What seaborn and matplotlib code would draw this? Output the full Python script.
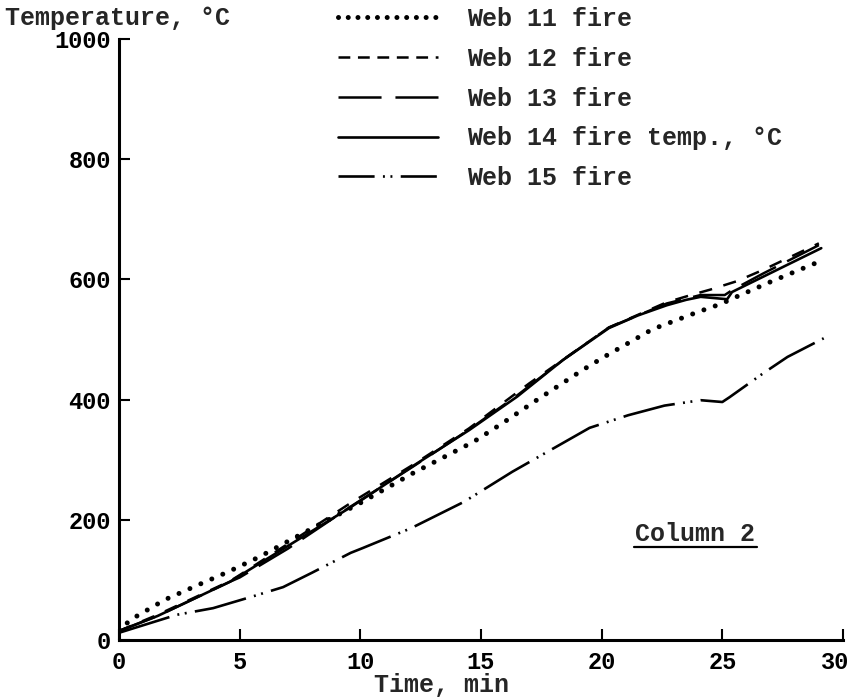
import numpy as np
import pandas as pd
import seaborn as sns
import matplotlib
matplotlib.use("Agg")
import matplotlib.pyplot as plt
from matplotlib.lines import Line2D
from matplotlib.transforms import ScaledTranslation

# ---------------- data ----------------
web11_x = [0, 0.45, 1.9, 3.3, 4.5, 5.8, 7.5, 10.0, 12.2, 14.7, 15.9, 17.3, 19.2, 20.1, 22.1, 24.0, 25.0, 25.3, 27.0, 29.1]
web11_y = [14, 33, 67, 92, 113, 138, 175, 228, 278, 330, 361, 399, 449, 471, 517, 546, 560, 566, 596, 631]

web12_x = [0, 1.6, 4.6, 5.0, 7.0, 9.6, 12.2, 14.5, 17.0, 20.3, 22.7, 23.7, 24.5, 25.6, 26.7, 29.0]
web12_y = [15, 42, 98, 108, 160, 228, 292, 352, 427, 520, 562, 574, 583, 597, 616, 660]

web13_x = [0, 1.6, 4.6, 5.0, 7.0, 9.6, 12.2, 14.5, 16.5, 18.4, 20.3, 22.7, 24.1, 25.1, 25.4, 26.7, 29.0]
web13_y = [15, 40, 97, 104, 152, 222, 289, 350, 407, 466, 520, 560, 574, 574, 582, 610, 657]

web14_x = [0, 1.6, 4.6, 9.6, 12.2, 14.5, 16.5, 18.4, 20.3, 21.5, 22.7, 23.5, 24.1, 25.2, 25.4, 29.1]
web14_y = [15, 40, 97, 221, 290, 349, 405, 466, 519, 540, 557, 566, 571, 567, 579, 652]

web15_x = [0, 2.4, 3.9, 5.5, 6.8, 8.0, 9.6, 10.1, 12.1, 14.3, 16.3, 19.5, 21.1, 22.6, 24.1, 25.0, 25.3, 26.7, 27.7, 29.2]
web15_y = [12, 42, 53, 72, 88, 112, 145, 153, 186, 230, 280, 353, 374, 390, 399, 396, 404, 444, 471, 502]

labels = ["Web 11 fire", "Web 12 fire", "Web 13 fire", "Web 14 fire temp., \u00b0C", "Web 15 fire"]
x_ticks = [0, 5, 10, 15, 20, 25, 30]
y_ticks = [0, 200, 400, 600, 800, 1000]

# ---------------- style ----------------
sns.set_style("ticks")
plt.rcParams["font.family"] = ["Liberation Mono", "DejaVu Sans Mono"]
plt.rcParams["font.weight"] = "bold"
plt.rcParams["lines.scale_dashes"] = False

fig = plt.figure(figsize=(8.5, 6.98), dpi=100)
ax = fig.add_axes([119 / 850, 58 / 698, 724 / 850, 601 / 698])

styles = [
    dict(linestyle=(0, (0.01, 8.6)), linewidth=3.6, dash_capstyle="round"),
    dict(linestyle=(0, (9.5, 8.5)), linewidth=1.8, dash_capstyle="butt"),
    dict(linestyle=(0, (28, 9)), linewidth=1.8, dash_capstyle="butt"),
    dict(linestyle="-", linewidth=1.9),
    dict(linestyle=(0, (38, 6, 1.4, 4, 1.4, 6)), linewidth=1.9, dash_capstyle="butt"),
]
series = [(web11_x, web11_y), (web12_x, web12_y), (web13_x, web13_y),
          (web14_x, web14_y), (web15_x, web15_y)]

for (xs, ys), st in zip(series, styles):
    df = pd.DataFrame({"t": xs, "T": ys})
    sns.lineplot(data=df, x="t", y="T", ax=ax, color="black", sort=False,
                 estimator=None, legend=False, **st)

ax.set_xlim(0, 30)
ax.set_ylim(0, 1000)
ax.set_xticks(x_ticks)
ax.set_yticks(y_ticks)
ax.set_xlabel("")
ax.set_ylabel("")
sns.despine(ax=ax)
for s in ("left", "bottom"):
    ax.spines[s].set_linewidth(2.2)
    ax.spines[s].set_color("black")
ax.tick_params(axis="both", direction="in", length=8, width=1.5, colors="black",
               labelsize=17)
ax.tick_params(axis="y", pad=6)
ax.tick_params(axis="x", pad=8)
xl = ax.get_xticklabels()
xl[-1].set_transform(xl[-1].get_transform() + ScaledTranslation(-8 / 100, 0, fig.dpi_scale_trans))

# axis titles
fig.text(5 / 850, 1 - 25 / 698, "Temperature, \u00b0C", ha="left", va="baseline", fontsize=18)
fig.text(442 / 850, 1 - 692 / 698, "Time, min", ha="center", va="baseline", fontsize=18)

# annotation
ax.text((695 - 119) / 724, (640 - 541) / 601, "Column 2", transform=ax.transAxes,
        ha="center", va="baseline", fontsize=18)
ax.add_line(Line2D([(634 - 119) / 724, (757 - 119) / 724], [(640 - 547) / 601] * 2,
                   transform=ax.transAxes, color="black", linewidth=1.6))

# legend with handles drawn like the reference key
handles = [
    Line2D([], [], color="black", linestyle=(0, (0.01, 7.0)), linewidth=3.6, dash_capstyle="round"),
    Line2D([], [], color="black", linestyle=(0, (8.5, 5.5)), linewidth=1.8),
    Line2D([], [], color="black", linestyle=(0, (31, 10)), linewidth=1.8),
    Line2D([], [], color="black", linestyle="-", linewidth=1.9),
    Line2D([], [], color="black", linestyle=(0, (26, 6, 1.4, 4, 1.4, 6)), linewidth=1.9),
]
fig.legend(handles, labels, loc="upper left", bbox_to_anchor=(338 / 850, 1 - 7 / 698),
           frameon=False, fontsize=18, handlelength=4.0, handletextpad=1.15,
           labelspacing=0.63, borderpad=0, borderaxespad=0)

fig.savefig("out.png", dpi=100)
